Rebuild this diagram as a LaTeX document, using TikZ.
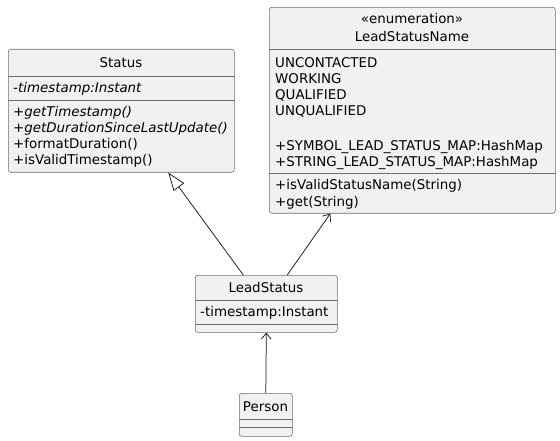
\documentclass[tikz,border=0pt]{standalone}
\usepackage{fontspec}
\setmainfont{DejaVu Sans}
\usetikzlibrary{arrows.meta,calc}
\definecolor{boxfill}{HTML}{F1F1F1}
\definecolor{boxline}{HTML}{6E6E6E}
\definecolor{connline}{HTML}{181818}
\begin{document}
\begin{tikzpicture}[x=1pt,y=-1pt,
  classbox/.style={draw=boxline,fill=boxfill,line width=0.6pt,rounded corners=2.5pt,anchor=north west,inner sep=0pt},
  sepline/.style={draw=boxline,line width=0.6pt},
  txt/.style={inner sep=0pt,font=\fontsize{13.4}{15}\selectfont,text height=10pt,text depth=1pt,anchor=west},
  ctr/.style={txt,anchor=center},
  itxt/.style={txt,font=\fontsize{13.4}{15}\selectfont\itshape},
  conn/.style={draw=connline,line width=0.75pt},
  gen/.style={conn,-{Triangle[open,length=18pt,width=13pt,fill=white]}},
  assoc/.style={conn,-{Straight Barb[length=6pt,width=10pt]}}]
\useasboundingbox (0,0) rectangle (560,441);

% Status
\node[classbox,minimum width=226pt,minimum height=123pt] (st) at (8,49) {};
\draw[sepline] ($(st.north west)+(0,27)$) -- ($(st.north east)+(0,27)$);
\draw[sepline] ($(st.north west)+(0,51)$) -- ($(st.north east)+(0,51)$);
\node[ctr] (sth) at (121,63) {Status};
\node[itxt] (sta) at (13,88) {-timestamp:Instant};
\node[itxt] (stm1) at (13,112) {+getTimestamp()};
\node[itxt] (stm2) at (13,128) {+getDurationSinceLastUpdate()};
\node[txt] (stm3) at (13,144) {+formatDuration()};
\node[txt] (stm4) at (13,160) {+isValidTimestamp()};

% LeadStatusName
\node[classbox,minimum width=286pt,minimum height=206pt] (lsn) at (269,7) {};
\draw[sepline] ($(lsn.north west)+(0,42)$) -- ($(lsn.north east)+(0,42)$);
\draw[sepline] ($(lsn.north west)+(0,166)$) -- ($(lsn.north east)+(0,166)$);
\node[ctr] (lsns) at (412,19) {«enumeration»};
\node[ctr] (lsnh) at (412,37) {LeadStatusName};
\node[txt] (lsn1) at (275,63) {UNCONTACTED};
\node[txt] (lsn2) at (275,79) {WORKING};
\node[txt] (lsn3) at (275,95) {QUALIFIED};
\node[txt] (lsn4) at (275,111) {UNQUALIFIED};
\node[txt] (lsn5) at (275,146) {+SYMBOL\_LEAD\_STATUS\_MAP:HashMap};
\node[txt] (lsn6) at (275,162) {+STRING\_LEAD\_STATUS\_MAP:HashMap};
\node[txt] (lsnm1) at (275,185) {+isValidStatusName(String)};
\node[txt] (lsnm2) at (275,202) {+get(String)};

% LeadStatus
\node[classbox,minimum width=142pt,minimum height=57pt] (ls) at (195,275) {};
\draw[sepline] ($(ls.north west)+(0,25)$) -- ($(ls.north east)+(0,25)$);
\draw[sepline] ($(ls.north west)+(0,49)$) -- ($(ls.north east)+(0,49)$);
\node[ctr] (lsh) at (266,288) {LeadStatus};
\node[txt] (lsa) at (200,312) {-timestamp:Instant};

% Person
\node[classbox,minimum width=53pt,minimum height=43pt] (pe) at (239,393) {};
\draw[sepline] ($(pe.north west)+(0,26)$) -- ($(pe.north east)+(0,26)$);
\draw[sepline] ($(pe.north west)+(0,34)$) -- ($(pe.north east)+(0,34)$);
\node[ctr] (peh) at (265.5,407) {Person};

% connectors
\draw[gen] ([xshift=-23pt]ls.north) -- ([xshift=47pt]st.south);
\draw[assoc] ([xshift=21pt]ls.north) -- ([xshift=-82pt]lsn.south);
\draw[assoc] (pe.north) -- (ls.south);
\end{tikzpicture}
\end{document}
